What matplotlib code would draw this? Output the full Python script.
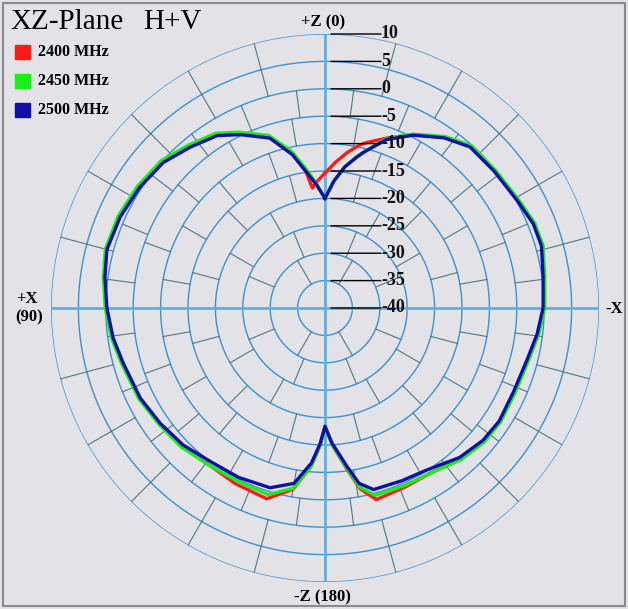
import numpy as np
import matplotlib
matplotlib.use("Agg")
import matplotlib.pyplot as plt
import matplotlib.transforms as mtransforms

plt.rcParams['font.family'] = ['Liberation Serif', 'DejaVu Serif']

# angles in degrees, 0 = +Z (top), 90 = +X (left), counter-clockwise
angles = [0, 4, 6, 8, 12, 18, 26, 32, 40, 48, 57, 66, 75, 82, 90, 98, 105, 116,
          125, 134, 144, 153, 163, 170, 175, 178, 180, 183, 188, 191, 195, 204,
          212, 222, 230, 237, 246, 256, 263, 270, 278, 286, 292, 299, 309, 318,
          325, 333, 340, 346, 348, 352, 356, 360]

gain_2500 = [-20.0, -17.4, -16.2, -14.8, -11.4, -7.4, -4.8, -2.9, -1.7, -0.3, 0.35,
             0.9, 1.2, 0.55, -0.2, -0.95, -1.8, -2.5, -3.3, -4.0, -5.1, -5.3, -5.7,
             -7.5, -11.6, -15.3, -18.4, -15.3, -10.7, -7.4, -5.7, -5.5, -5.1, -3.3,
             -2.4, -2.1, -2.35, -1.9, -1.0, -0.2, 0.2, 1.1, 1.0, 0.2, -0.3, -0.45,
             -2.1, -4.6, -7.3, -10.7, -11.8, -14.0, -16.8, -20.0]

gain_2450 = [-20.0, -17.2, -15.8, -14.2, -10.8, -6.9, -4.3, -2.4, -1.2, 0.2, 0.8,
             1.3, 1.5, 0.85, 0.1, -0.65, -1.5, -2.2, -3.0, -3.5, -4.4, -4.6, -4.4,
             -6.6, -11.0, -15.0, -18.4, -15.0, -10.2, -6.7, -4.6, -4.5, -4.3, -2.8,
             -2.0, -1.8, -2.0, -1.6, -0.7, 0.1, 0.5, 1.4, 1.3, 0.5, 0.0, -0.1,
             -1.8, -4.4, -7.1, -10.6, -11.7, -13.9, -16.7, -20.0]

gain_2400 = [-15.4, -17.0, -18.0, -14.8, -11.2, -7.3, -4.6, -2.7, -1.5, -0.1, 0.5,
             1.0, 1.3, 0.7, 0.0, -0.8, -1.6, -2.3, -3.1, -3.6, -4.4, -4.0, -3.6,
             -6.4, -11.0, -15.0, -18.4, -15.0, -10.0, -6.4, -3.8, -4.2, -4.3, -2.9,
             -2.2, -2.0, -2.2, -1.8, -0.9, -0.1, 0.3, 1.2, 1.1, 0.3, -0.2, -0.3,
             -2.0, -4.5, -7.0, -8.9, -9.6, -11.4, -13.4, -15.4]

series = [("2400 MHz", gain_2400, "#ff1a1a"),
          ("2450 MHz", gain_2450, "#1aee1a"),
          ("2500 MHz", gain_2500, "#1010a8")]

ring_values = [10, 5, 0, -5, -10, -15, -20, -25, -30, -35, -40]
ring_labels = ["10", "5", "0", "-5", "-10", "-15", "-20", "-25", "-30", "-35", "-40"]

# spoke layout per annulus: (inner dB, step deg, offset deg)
spoke_bands = [(-35, 60, 30), (-30, 45, 22.5), (-25, 30, 0), (-20, 30, 15),
               (-15, 20, 0), (-10, 20, 10), (-5, 15, 7.5), (0, 15, 0), (5, 15, 0)]

W, H = 628, 609
fig = plt.figure(figsize=(W / 100, H / 100), dpi=100, facecolor="#e3e2e6")

cx, cy, R = 325, 308, 274
ax = fig.add_axes([(cx - R) / W, (H - cy - R) / H, 2 * R / W, 2 * R / H],
                  projection="polar")
ax.set_theta_zero_location("N")
ax.set_theta_direction(1)
ax.set_ylim(-40, 10)
ax.grid(False)
ax.set_xticks([])
ax.set_yticks([])
ax.spines["polar"].set_visible(False)
ax.patch.set_alpha(0)

t = np.linspace(0, 2 * np.pi, 400)
for v in ring_values[:-1]:
    ax.plot(t, np.full_like(t, v), color="#3a92d2", lw=1.0, zorder=1)

for inner, step, off in spoke_bands:
    for a in np.arange(off, 360, step):
        if a % 90 == 0:
            continue
        th = np.deg2rad(a)
        ax.plot([th, th], [inner, inner + 5], color="#4f7888", lw=0.8, zorder=1)

for a in [0, 90, 180, 270]:
    th = np.deg2rad(a)
    ax.plot([th, th], [-40, 10], color="#55b2e6", lw=2.0, zorder=2)

for name, g, c in series:
    ax.plot(np.deg2rad(angles), g, color=c, lw=2.4, zorder=3)

# ring labels with leader lines
fig.canvas.draw()
for v, lab in zip(ring_values, ring_labels):
    start = mtransforms.offset_copy(ax.transData, fig=fig, x=6, y=0, units="dots")
    ax.annotate("", xy=(0, v), xycoords=start, xytext=(50, 0),
                textcoords="offset pixels",
                arrowprops=dict(arrowstyle="-", color="black", lw=1.0,
                                shrinkA=0, shrinkB=0), zorder=4)
    ax.annotate(lab, xy=(0, v), xytext=(56, 0), textcoords="offset pixels",
                fontsize=13, fontweight="bold", ha="left", va="center",
                color="#111111", zorder=5)


def px(x, y):
    return x / W, 1 - y / H


fig.text(*px(10, 22), "XZ-Plane", fontsize=21, ha="left", va="center")
fig.text(*px(143, 22), "H+V", fontsize=21, ha="left", va="center")

for i, (name, g, c) in enumerate(series):
    yy = 52 + 29 * i
    fig.patches.append(plt.Rectangle(px(15, yy + 7), 15 / W, 14 / H,
                                     transform=fig.transFigure, color=c,
                                     figure=fig))
    fig.text(*px(38, yy), name, fontsize=11.5, fontweight="bold",
             ha="left", va="center")

fig.text(*px(323, 22), "+Z (0)", fontsize=12, fontweight="bold", ha="center", va="center")
fig.text(*px(322, 597), "-Z (180)", fontsize=12, fontweight="bold", ha="center", va="center")
fig.text(*px(27, 299), "+X", fontsize=12, fontweight="bold", ha="center", va="center")
fig.text(*px(29, 317), "(90)", fontsize=12, fontweight="bold", ha="center", va="center")
fig.text(*px(614, 309), "-X", fontsize=12, fontweight="bold", ha="center", va="center")

fig.patches.append(plt.Rectangle((3 / W, 3 / H), 1 - 6 / W, 1 - 6 / H,
                                 transform=fig.transFigure, fill=False,
                                 edgecolor="#8a8a8a", lw=1.5, figure=fig))

fig.savefig("out.png", dpi=100, facecolor=fig.get_facecolor())
